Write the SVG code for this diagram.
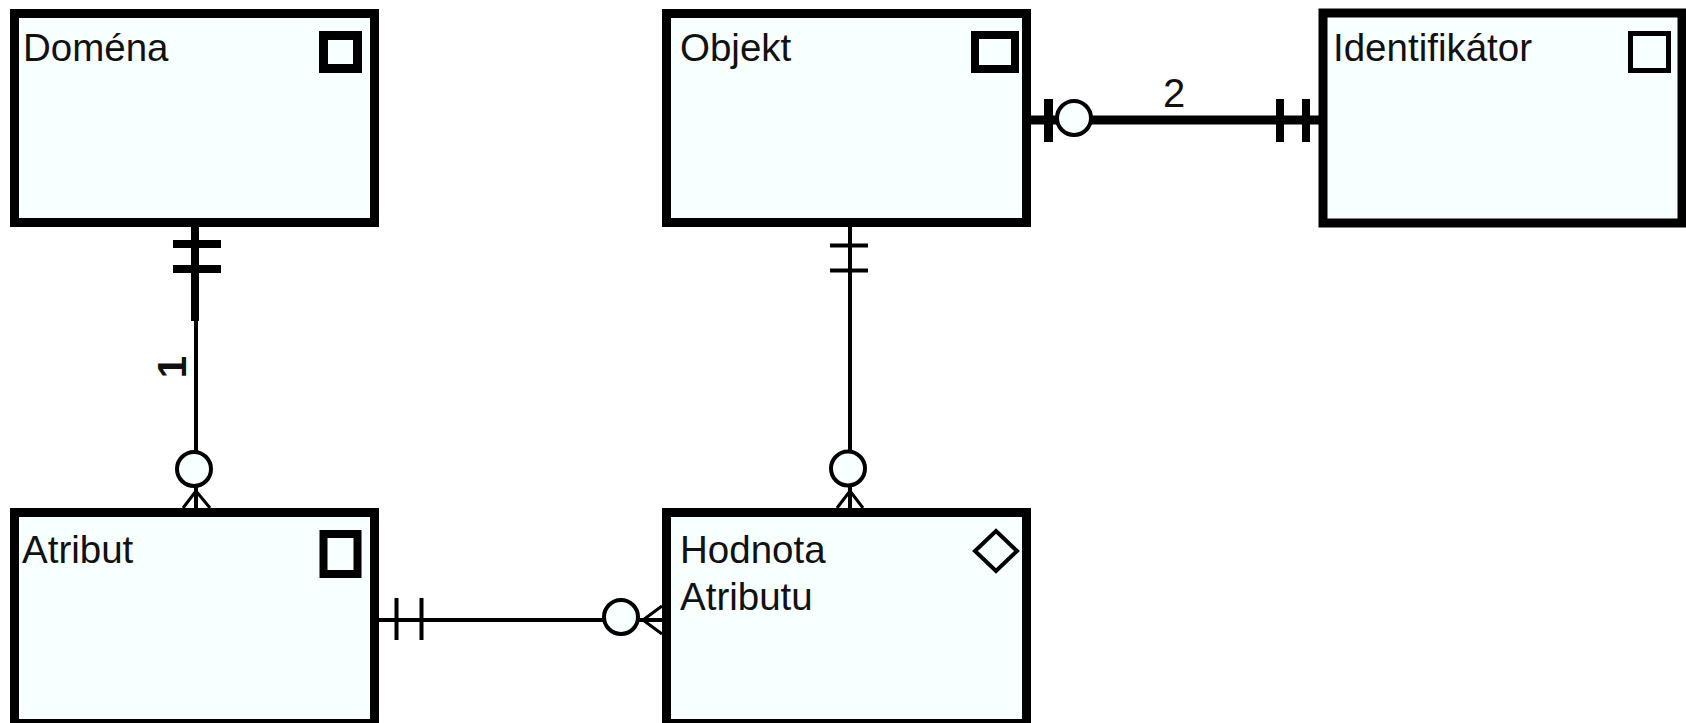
<svg xmlns="http://www.w3.org/2000/svg" width="1686" height="723" viewBox="0 0 1686 723">
<style>
.box{fill:#F8FFFF;stroke:#000;stroke-width:9}
.lbl{font-family:"Liberation Sans",Arial,sans-serif;font-size:38.5px;fill:#111}
.ic{fill:none;stroke:#000}
.c{fill:none;stroke:#000;stroke-linecap:butt}
.ring{fill:#F8FFFF;stroke:#000;stroke-width:4}
.num{font-family:"Liberation Sans",Arial,sans-serif;font-size:40px;fill:#111}
</style>
<rect width="1686" height="723" fill="#fff"/>
<g id="connectors">
  <g id="c-domena-atribut">
    <path class="c" d="M195,227 V321" stroke-width="8"/>
    <path class="c" d="M196,321 V452" stroke-width="4"/>
    <path class="c" d="M173,244 H221 M173,269 H221" stroke-width="8"/>
    <circle class="ring" cx="194" cy="469" r="17"/>
    <path class="c" d="M196,486 V508" stroke-width="4"/>
    <path class="c" d="M196,491 L183,508 M196,491 L210,508" stroke-width="3"/>
    <text class="num" font-size="52" font-weight="bold" text-anchor="middle" transform="translate(186,367) rotate(-90)">1</text>
  </g>
  <g id="c-objekt-hodnota">
    <path class="c" d="M850,227 V452" stroke-width="4"/>
    <path class="c" d="M830,245.5 H868 M830,270.5 H868" stroke-width="4"/>
    <circle class="ring" cx="848" cy="468.5" r="17"/>
    <path class="c" d="M850,486 V508" stroke-width="4"/>
    <path class="c" d="M850,491 L837,508 M850,491 L863,508" stroke-width="3"/>
  </g>
  <g id="c-objekt-identifikator">
    <path class="c" d="M1031,120 H1319" stroke-width="9"/>
    <path class="c" d="M1048.5,99 V142" stroke-width="9"/>
    <circle class="ring" cx="1074" cy="118" r="17"/>
    <path class="c" d="M1280,99 V142 M1306,99 V142" stroke-width="8"/>
    <text class="num" x="1163" y="107">2</text>
  </g>
  <g id="c-atribut-hodnota">
    <path class="c" d="M379,620 H604" stroke-width="4"/>
    <path class="c" d="M396.5,598 V640 M421.5,598 V640" stroke="#808080" stroke-width="4"/>
    <circle class="ring" cx="621" cy="617" r="17"/>
    <path class="c" d="M638,620 H662" stroke-width="4"/>
    <path class="c" d="M643,620 L662,606 M643,620 L662,634" stroke-width="3"/>
  </g>
</g>
<g id="node-domena">
  <rect class="box" x="14.5" y="13.5" width="360" height="209"/>
  <text class="lbl" x="23" y="61">Doména</text>
  <rect class="ic" x="323.5" y="35.5" width="34" height="33" stroke-width="9"/>
</g>
<g id="node-objekt">
  <rect class="box" x="666.5" y="13.5" width="360" height="209"/>
  <text class="lbl" x="680" y="61">Objekt</text>
  <rect class="ic" x="975" y="35" width="40" height="34" stroke-width="8"/>
</g>
<g id="node-identifikator">
  <rect class="box" x="1323" y="13" width="359" height="210" stroke-width="8"/>
  <text class="lbl" x="1333" y="61">Identifikátor</text>
  <rect class="ic" x="1630.5" y="33.5" width="38" height="37" stroke="#444" stroke-width="5"/>
</g>
<g id="node-atribut">
  <rect class="box" x="14.5" y="512.5" width="360" height="211"/>
  <text class="lbl" x="22" y="563">Atribut</text>
  <rect class="ic" x="323.5" y="534" width="34" height="40" stroke-width="8"/>
</g>
<g id="node-hodnota">
  <rect class="box" x="666.5" y="512.5" width="360" height="211"/>
  <text class="lbl" x="680" y="563">Hodnota</text>
  <text class="lbl" x="680" y="610">Atributu</text>
  <path class="ic" d="M996,531 L1017,551 L996,571 L975,551 Z" stroke-width="4"/>
</g>
</svg>
